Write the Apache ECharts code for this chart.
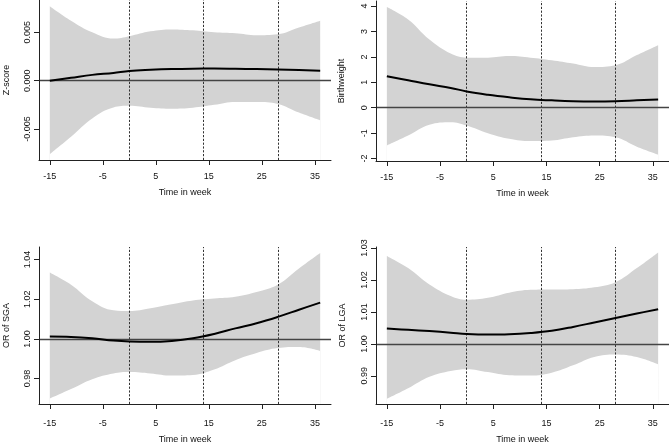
<!DOCTYPE html>
<html>
<head>
<meta charset="utf-8">
<script src="https://cdn.jsdelivr.net/npm/echarts@6/dist/echarts.min.js"></script>
<style>
html,body{margin:0;padding:0;background:#fff;}
#chart{width:669px;height:445px;}
</style>
</head>
<body>
<div id="chart"></div>
<script>
// ---- data ----
const weeks = [-15, -11, -7, -3, 0, 4, 8, 12, 16, 20, 24, 28, 32, 36];
const xTicks = [-15, -5, 5, 15, 25, 35];
const cutWeeks = [0, 14, 28];
const xTitle = "Time in week";

const zTitle = "Z-score";
const zLine  = [0.0000, 0.0003, 0.0006, 0.0008, 0.0010, 0.00112, 0.0012, 0.00124, 0.00125, 0.00123, 0.0012, 0.00116, 0.0011, 0.00103];
const zUpper = [0.0077, 0.0062, 0.0050, 0.00435, 0.0046, 0.0051, 0.0053, 0.0052, 0.0050, 0.0049, 0.0047, 0.0048, 0.0055, 0.0062];
const zLower = [-0.0076, -0.0058, -0.0039, -0.00276, -0.0026, -0.0028, -0.0029, -0.0028, -0.0025, -0.0022, -0.0022, -0.0024, -0.0033, -0.0041];
const zTicks = [-0.005, 0, 0.005];

const bTitle = "Birthweight";
const bLine  = [1.24, 1.08, 0.92, 0.78, 0.64, 0.51, 0.41, 0.33, 0.29, 0.26, 0.25, 0.26, 0.29, 0.32];
const bUpper = [3.96, 3.47, 2.68, 2.13, 1.97, 1.97, 2.03, 1.97, 1.87, 1.74, 1.60, 1.67, 2.07, 2.46];
const bLower = [-1.48, -1.09, -0.67, -0.57, -0.70, -1.00, -1.22, -1.31, -1.29, -1.16, -1.09, -1.16, -1.53, -1.84];
const bTicks = [-2, -1, 0, 1, 2, 3, 4];

const sTitle = "OR of SGA";
const sLine  = [1.0012, 1.0010, 1.0003, 0.9992, 0.9987, 0.9985, 0.9990, 1.0003, 1.0025, 1.0053, 1.0079, 1.0111, 1.0147, 1.0183];
const sUpper = [1.0334, 1.0273, 1.0190, 1.0144, 1.0140, 1.0154, 1.0174, 1.0193, 1.0203, 1.0212, 1.0236, 1.0273, 1.0355, 1.0433];
const sLower = [0.9699, 0.9747, 0.9797, 0.9826, 0.9833, 0.9826, 0.9815, 0.9818, 0.9846, 0.9893, 0.9929, 0.9954, 0.9959, 0.9939];
const sTicks = [0.98, 1.00, 1.02, 1.04];

const lTitle = "OR of LGA";
const lLine  = [1.0048, 1.0044, 1.0040, 1.0035, 1.0031, 1.0029, 1.0030, 1.0034, 1.0041, 1.0053, 1.0067, 1.0081, 1.0095, 1.0108];
const lUpper = [1.0275, 1.0237, 1.0186, 1.0150, 1.0138, 1.0144, 1.0160, 1.0169, 1.0170, 1.0171, 1.0177, 1.0193, 1.0237, 1.0286];
const lLower = [0.9828, 0.9861, 0.9897, 0.9915, 0.9921, 0.9912, 0.9902, 0.9901, 0.9910, 0.9933, 0.9959, 0.9967, 0.9959, 0.9936];
const lTicks = [0.99, 1.00, 1.01, 1.02, 1.03];

// ---- layout ----
const panels = [
  {title: zTitle, line: zLine, up: zUpper, lo: zLower, ticks: zTicks, ref: 0, dec: 3, ymin: -0.0082, ymax: 0.00834,
   grid: {left: 39, top: 0, width: 292, height: 160}, lm: 12, ng: 28, yng: 28},
  {title: bTitle, line: bLine, up: bUpper, lo: bLower, ticks: bTicks, ref: 0, dec: 0, ymin: -2.094, ymax: 4.197,
   grid: {left: 376, top: 1, width: 295, height: 160}, lm: 12, ng: 28, yng: 30},
  {title: sTitle, line: sLine, up: sUpper, lo: sLower, ticks: sTicks, ref: 1, dec: 2, ymin: 0.9672, ymax: 1.0463,
   grid: {left: 39, top: 247, width: 292, height: 159}, lm: 15, ng: 31, yng: 28},
  {title: lTitle, line: lLine, up: lUpper, lo: lLower, ticks: lTicks, ref: 1, dec: 2, ymin: 0.9812, ymax: 1.0303,
   grid: {left: 376, top: 247, width: 295, height: 159}, lm: 15, ng: 31, yng: 29}
];

const FONT = "'Liberation Sans', Arial, sans-serif";
const txt = {color: '#111', fontFamily: FONT, fontSize: 9};

const grids = [], xAxes = [], yAxes = [], series = [];
panels.forEach((p, i) => {
  grids.push(Object.assign({containLabel: false}, p.grid));
  xAxes.push({
    type: 'value', gridIndex: i, min: -17.04, max: 38.04, z: 10,
    name: xTitle, nameLocation: 'middle', nameGap: p.ng, nameTextStyle: txt,
    axisLine: {show: true, onZero: false, lineStyle: {color: '#222', width: 1}},
    axisTick: {show: true, length: 5, lineStyle: {color: '#222'}, customValues: xTicks},
    axisLabel: Object.assign({margin: p.lm, customValues: xTicks, formatter: v => String(v)}, txt),
    splitLine: {show: false}
  });
  yAxes.push({
    type: 'value', gridIndex: i, min: p.ymin, max: p.ymax, z: 10,
    name: p.title, nameLocation: 'middle', nameGap: p.yng, nameRotate: 90, nameTextStyle: txt,
    axisLine: {show: true, onZero: false, lineStyle: {color: '#222', width: 1}},
    axisTick: {show: true, length: 5, lineStyle: {color: '#222'}, customValues: p.ticks},
    axisLabel: Object.assign({margin: 7, rotate: 90, customValues: p.ticks,
      formatter: v => Number(v).toFixed(p.dec)}, txt),
    splitLine: {show: false}
  });
  // upper bound: grey fill down to the axis bottom
  series.push({
    type: 'line', xAxisIndex: i, yAxisIndex: i,
    data: weeks.map((w, k) => [w, p.up[k]]), smooth: 0.4, symbol: 'none',
    lineStyle: {width: 0, opacity: 0}, areaStyle: {color: '#d3d3d3', opacity: 1, origin: 'start'},
    silent: true, z: 1
  });
  // lower bound: white fill down to the axis bottom, masking the grey below the band
  series.push({
    type: 'line', xAxisIndex: i, yAxisIndex: i,
    data: weeks.map((w, k) => [w, p.lo[k]]), smooth: 0.4, symbol: 'none',
    lineStyle: {width: 0, opacity: 0}, areaStyle: {color: '#ffffff', opacity: 1, origin: 'start'},
    silent: true, z: 2
  });
  series.push({
    type: 'line', xAxisIndex: i, yAxisIndex: i,
    data: weeks.map((w, k) => [w, p.line[k]]), smooth: 0.4, symbol: 'none',
    lineStyle: {color: '#000', width: 2}, z: 5,
    markLine: {
      silent: true, symbol: 'none', label: {show: false}, animation: false,
      data: [
        ...cutWeeks.map(c => ({xAxis: c, lineStyle: {color: '#333', type: [2.2, 1.6], width: 1}})),
        {yAxis: p.ref, lineStyle: {color: '#444', type: 'solid', width: 1.3}}
      ]
    }
  });
});

const chart = echarts.init(document.getElementById('chart'), null, {renderer: 'canvas'});
chart.setOption({
  animation: false,
  backgroundColor: '#fff',
  grid: grids, xAxis: xAxes, yAxis: yAxes, series: series
});
</script>
</body>
</html>
